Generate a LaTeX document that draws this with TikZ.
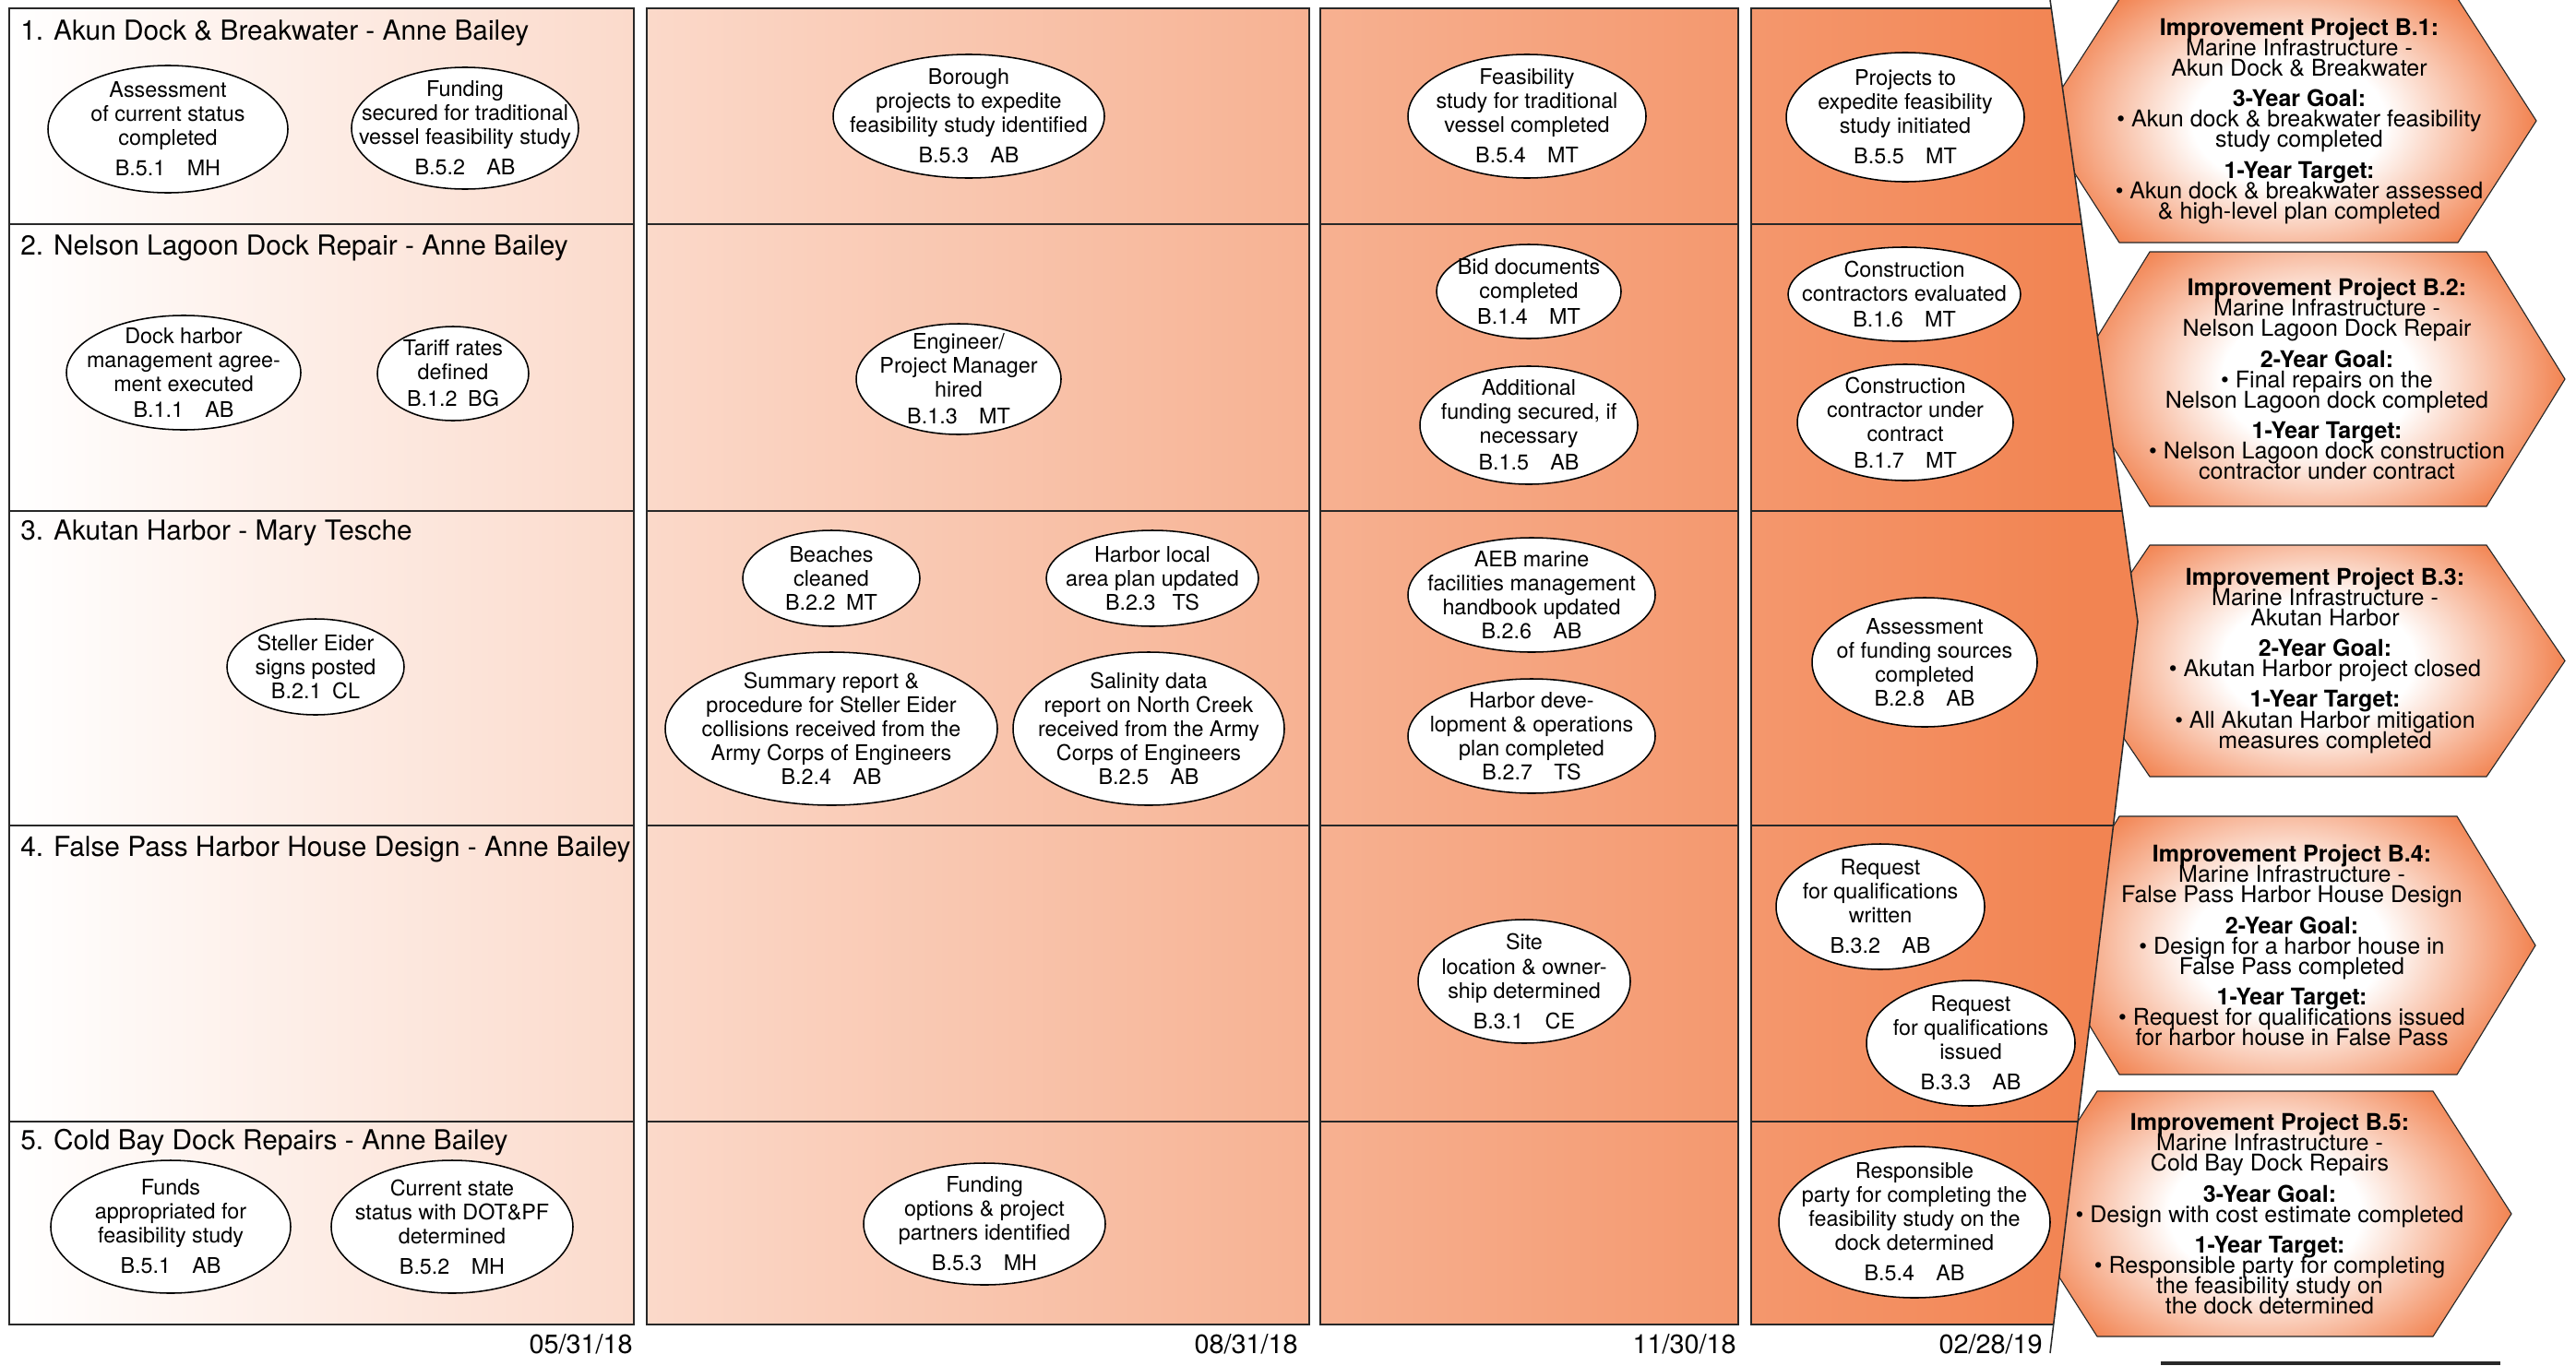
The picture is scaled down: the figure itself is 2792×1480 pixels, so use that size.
\documentclass[tikz,border=0pt]{standalone}
\usepackage{fontspec}
\setmainfont{TeX Gyre Heros}

\definecolor{laneorange}{RGB}{242,132,82}
\definecolor{rimgray}{RGB}{40,40,40}
\pgfdeclareradialshading{goalglow}{\pgfpoint{0bp}{0bp}}{color(0bp)=(white); color(9bp)=(white); color(23bp)=(laneorange); color(50bp)=(laneorange)}
\newcommand\goalfont{\fontsize{17.8}{15.7}\selectfont\lineskiplimit=-100pt\relax}
\newcommand\goalhead[1]{\textbf{#1}}

\tikzset{
  rim/.style={draw=rimgray, line width=1.1pt},
  milestone/.style={draw=black, fill=white, line width=1.1pt},
  mstext/.style={align=center, inner sep=0pt, font=\fontsize{16.6}{18.5}\selectfont},
  lanetitle/.style={anchor=base west, inner sep=0pt, font=\fontsize{21.2}{24}\selectfont},
  datelabel/.style={anchor=base east, inner sep=0pt, font=\fontsize{20.5}{22}\selectfont},
  goaltext/.style={align=center, inner sep=0pt, font=\goalfont},
}

\begin{document}
\begin{tikzpicture}[x=0.025cm, y=-0.025cm]
\useasboundingbox (0,0) rectangle (2792,1480);
\clip (0,0) rectangle (2792,1480);

% goal hexagons (left tips go under the last lane)
\foreach \xl/\xr/\yt/\yb in {2297/2664/-1/263, 2330/2695/273/549, 2330/2695/591/842, 2297/2663/885/1165, 2273/2637/1183/1449}{
  \pgfmathsetmacro\hmid{(\yt+\yb)/2}
  \pgfmathsetmacro\hcen{(\xl+\xr)/2}
  \pgfmathsetmacro\hhalf{0.75*(\yb-\yt)}
  \begin{scope}
    \clip (\xl,\yt) -- (\xr,\yt) -- (\xr+85,\hmid) -- (\xr,\yb) -- (\xl,\yb) -- (\xl-85,\hmid) -- cycle;
    \shade[shading=goalglow] (\hcen-290,\hmid-\hhalf) rectangle (\hcen+290,\hmid+\hhalf);
  \end{scope}
  \draw[draw=rimgray, line width=0.8pt] (\xl,\yt) -- (\xr,\yt) -- (\xr+85,\hmid) -- (\xr,\yb) -- (\xl,\yb) -- (\xl-85,\hmid) -- cycle;
}

% quarter lanes with one running fade
\begin{scope}
  \clip (10,9) rectangle (687,1436) (701,9) rectangle (1419,1436) (1431,9) rectangle (1884,1436)
        (1898,9) -- (2223,9) -- (2317,674) -- (2226,1436) -- (1898,1436) -- cycle;
  \shade[left color=white, right color=laneorange] (10,0) rectangle (2250,1480);
  \fill[laneorange] (2249,0) rectangle (2320,1480);
\end{scope}
\draw[rim] (10,9) rectangle (687,1436);
\draw[rim] (701,9) rectangle (1419,1436);
\draw[rim] (1431,9) rectangle (1884,1436);
\draw[rim] (2223,9) -- (1898,9) -- (1898,1436) -- (2226,1436);
\draw[rim] (2222,0) -- (2317,674) -- (2222,1467);
\foreach \y/\e in {243/2256, 554/2300, 895/2291, 1216/2252}{
  \draw[rim] (10,\y) -- (687,\y) (701,\y) -- (1419,\y) (1431,\y) -- (1884,\y) (1898,\y) -- (\e,\y);
}

% project titles
\node[lanetitle] (lane1) at (22,43) {1. Akun Dock \& Breakwater - Anne Bailey};
\node[lanetitle] (lane2) at (22,276) {2. Nelson Lagoon Dock Repair - Anne Bailey};
\node[lanetitle] (lane3) at (22,585) {3. Akutan Harbor - Mary Tesche};
\node[lanetitle] (lane4) at (22,928) {4. False Pass Harbor House Design - Anne Bailey};
\node[lanetitle] (lane5) at (22,1246) {5. Cold Bay Dock Repairs - Anne Bailey};

% row 1
\draw[milestone] (182,140) ellipse [x radius=130, y radius=69] node[mstext] (akun1) {Assessment\\of current status\\completed\\[5pt]B.5.1\quad MH};
\draw[milestone] (504,139) ellipse [x radius=123, y radius=66] node[mstext] (akun2) {Funding\\secured for traditional\\vessel feasibility study\\[5pt]B.5.2\quad AB};
\draw[milestone] (1050,126) ellipse [x radius=147, y radius=67] node[mstext] (akun3) {Borough\\projects to expedite\\feasibility study identified\\[5pt]B.5.3\quad AB};
\draw[milestone] (1655,126) ellipse [x radius=129, y radius=67] node[mstext] (akun4) {Feasibility\\study for traditional\\vessel completed\\[5pt]B.5.4\quad MT};
\draw[milestone] (2065,127) ellipse [x radius=129, y radius=70] node[mstext] (akun5) {Projects to\\expedite feasibility\\study initiated\\[5pt]B.5.5\quad MT};

% row 2
\draw[milestone] (199,404) ellipse [x radius=127, y radius=62] node[mstext] (nelson1) {Dock harbor\\management agree-\\ment executed\\[2pt]B.1.1\quad AB};
\draw[milestone] (491,405) ellipse [x radius=82, y radius=51] node[mstext] (nelson2) {Tariff rates\\defined\\[2pt]B.1.2\enspace BG};
\draw[milestone] (1039,411) ellipse [x radius=111, y radius=60] node[mstext] (nelson3) {Engineer/\\Project Manager\\hired\\[2pt]B.1.3\quad MT};
\draw[milestone] (1657,316) ellipse [x radius=100, y radius=51] node[mstext] (nelson4) {Bid documents\\completed\\[2pt]B.1.4\quad MT};
\draw[milestone] (1657,461) ellipse [x radius=118, y radius=64] node[mstext] (nelson5) {Additional\\funding secured, if\\necessary\\[2pt]B.1.5\quad AB};
\draw[milestone] (2064,319) ellipse [x radius=126, y radius=51] node[mstext] (nelson6) {Construction\\contractors evaluated\\[2pt]B.1.6\quad MT};
\draw[milestone] (2065,458) ellipse [x radius=117, y radius=63] node[mstext] (nelson7) {Construction\\contractor under\\contract\\[2pt]B.1.7\quad MT};

% row 3
\draw[milestone] (342,723) ellipse [x radius=96, y radius=52] node[mstext] (akutan1) {Steller Eider\\signs posted\\B.2.1\enspace CL};
\draw[milestone] (901,627) ellipse [x radius=96, y radius=52] node[mstext] (akutan2) {Beaches\\cleaned\\B.2.2\enspace MT};
\draw[milestone] (1249,627) ellipse [x radius=115, y radius=52] node[mstext] (akutan3) {Harbor local\\area plan updated\\B.2.3\enspace\ TS};
\draw[milestone] (901,790) ellipse [x radius=180, y radius=83] node[mstext] (akutan4) {Summary report \&\\procedure for Steller Eider\\collisions received from the\\Army Corps of Engineers\\B.2.4\quad AB};
\draw[milestone] (1245,790) ellipse [x radius=147, y radius=83] node[mstext] (akutan5) {Salinity data\\report on North Creek\\received from the Army\\Corps of Engineers\\B.2.5\quad AB};
\draw[milestone] (1660,645) ellipse [x radius=134, y radius=62] node[mstext] (akutan6) {AEB marine\\facilities management\\handbook updated\\B.2.6\quad AB};
\draw[milestone] (1660,798) ellipse [x radius=134, y radius=62] node[mstext] (akutan7) {Harbor deve-\\lopment \& operations\\plan completed\\B.2.7\quad TS};
\draw[milestone] (2086,718) ellipse [x radius=122, y radius=70] node[mstext] (akutan8) {Assessment\\of funding sources\\completed\\B.2.8\quad AB};

% row 4
\draw[milestone] (1652,1064) ellipse [x radius=115, y radius=67] node[mstext] (falsepass1) {Site\\location \& owner-\\ship determined\\[5pt]B.3.1\quad CE};
\draw[milestone] (2038,983) ellipse [x radius=113, y radius=68] node[mstext] (falsepass2) {Request\\for qualifications\\written\\[5pt]B.3.2\quad AB};
\draw[milestone] (2136,1131) ellipse [x radius=113, y radius=68] node[mstext] (falsepass3) {Request\\for qualifications\\issued\\[5pt]B.3.3\quad AB};

% row 5
\draw[milestone] (185,1330) ellipse [x radius=130, y radius=72] node[mstext] (coldbay1) {Funds\\appropriated for\\feasibility study\\[5pt]B.5.1\quad AB};
\draw[milestone] (490,1330) ellipse [x radius=131, y radius=72] node[mstext] (coldbay2) {Current state\\status with DOT\&PF\\determined\\[5pt]B.5.2\quad MH};
\draw[milestone] (1067,1327) ellipse [x radius=131, y radius=66] node[mstext] (coldbay3) {Funding\\options \& project\\partners identified\\[5pt]B.5.3\quad MH};
\draw[milestone] (2075,1325) ellipse [x radius=147, y radius=82] node[mstext] (coldbay4) {Responsible\\party for completing the\\feasibility study on the\\dock determined\\[5pt]B.5.4\quad AB};

% goal texts
\node[goaltext] (goal1) at (2492,131) {\goalhead{Improvement Project B.1:}\\Marine Infrastructure -\\Akun Dock \& Breakwater\\[8pt]\goalhead{3-Year Goal:}\\\textbullet\ Akun dock \& breakwater feasibility\\study completed\\[8pt]\goalhead{1-Year Target:}\\\textbullet\ Akun dock \& breakwater assessed\\\& high-level plan completed};
\node[goaltext] (goal2) at (2522,411) {\goalhead{Improvement Project B.2:}\\Marine Infrastructure -\\Nelson Lagoon Dock Repair\\[8pt]\goalhead{2-Year Goal:}\\\textbullet\ Final repairs on the\\Nelson Lagoon dock completed\\[8pt]\goalhead{1-Year Target:}\\\textbullet\ Nelson Lagoon dock construction\\contractor under contract};
\node[goaltext] (goal3) at (2520,716) {\goalhead{Improvement Project B.3:}\\Marine Infrastructure -\\Akutan Harbor\\[8pt]\goalhead{2-Year Goal:}\\\textbullet\ Akutan Harbor project closed\\[8pt]\goalhead{1-Year Target:}\\\textbullet\ All Akutan Harbor mitigation\\measures completed};
\node[goaltext] (goal4) at (2484,1025) {\goalhead{Improvement Project B.4:}\\Marine Infrastructure -\\False Pass Harbor House Design\\[8pt]\goalhead{2-Year Goal:}\\\textbullet\ Design for a harbor house in\\False Pass completed\\[8pt]\goalhead{1-Year Target:}\\\textbullet\ Request for qualifications issued\\for harbor house in False Pass};
\node[goaltext] (goal5) at (2460,1316) {\goalhead{Improvement Project B.5:}\\Marine Infrastructure -\\Cold Bay Dock Repairs\\[8pt]\goalhead{3-Year Goal:}\\\textbullet\ Design with cost estimate completed\\[8pt]\goalhead{1-Year Target:}\\\textbullet\ Responsible party for completing\\the feasibility study on\\the dock determined};

% quarter end dates
\node[datelabel] (q1) at (686,1467) {05/31/18};
\node[datelabel] (q2) at (1407,1467) {08/31/18};
\node[datelabel] (q3) at (1882,1467) {11/30/18};
\node[datelabel] (q4) at (2214,1467) {02/28/19};

\draw[draw=rimgray, line width=2.2pt] (2342,1478) -- (2710,1478);
\end{tikzpicture}
\end{document}
